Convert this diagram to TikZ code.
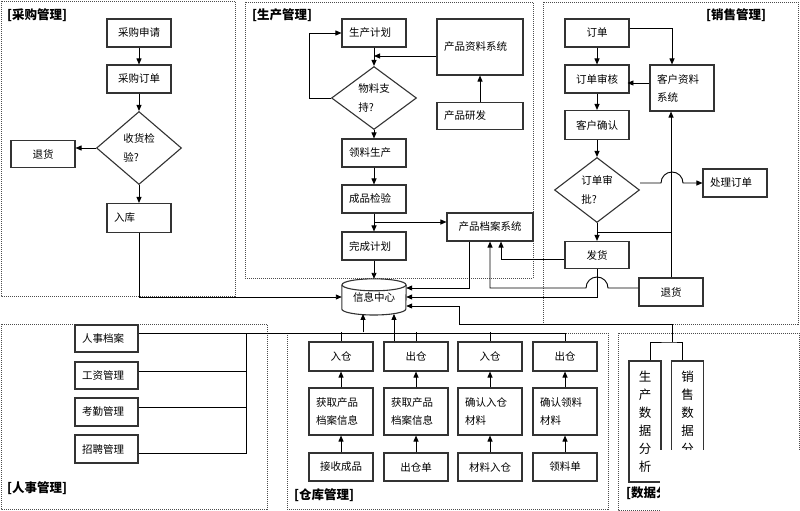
\documentclass[tikz,border=0pt]{standalone}
\usepackage{fontspec}
\setmainfont{Noto Sans CJK SC}
\usetikzlibrary{arrows.meta,shapes.geometric,calc}
\begin{document}
\begin{tikzpicture}[x=1pt,y=-1pt,
  box/.style={draw=black!80,line width=1.1pt,minimum height=28pt,inner xsep=7pt,inner ysep=0pt,text width=50pt,align=center,font=\fontsize{10.5}{18}\selectfont},
  dia/.style={draw=black!80,line width=1.1pt,diamond,minimum width=85pt,minimum height=65pt,inner sep=0pt,align=left,font=\fontsize{10.5}{19}\selectfont},
  vbox/.style={draw=black!80,line width=1.1pt,minimum width=32pt,minimum height=121pt,inner sep=0pt,align=center,font=\fontsize{12.5}{18}\selectfont},
  grp/.style={draw=black!70,line width=0.8pt,dash pattern=on 1pt off 1pt},
  ttl/.style={anchor=west,inner sep=0pt,font=\bfseries\fontsize{12.5}{14}\selectfont},
  con/.style={line width=0.9pt,draw=black},
  arr/.style={con,-{Triangle[length=6pt,width=5pt]}}
]
\useasboundingbox (0,0) rectangle (800,511);
\fill[white] (0,0) rectangle (800,511);

% groups
\draw[grp] (1,1) rectangle (235,296);
\draw[grp] (245,2) rectangle (533,278);
\draw[grp] (543,2) rectangle (798,324);
\draw[grp] (1,324) rectangle (267,509);
\draw[grp] (287,333) rectangle (608,509);
\draw[grp] (618,333) rectangle (799,510);

% titles
\node[ttl] (t1) at (7,15) {[采购管理]};
\node[ttl] (t2) at (252,15) {[生产管理]};
\node[ttl] (t3) at (706,15) {[销售管理]};
\node[ttl] (t4) at (7,488) {[人事管理]};
\node[ttl] (t5) at (294,495) {[仓库管理]};
\node[ttl] (t6) at (626,493) {[数据分析]};

% info center
\node[minimum width=64pt,minimum height=36pt,inner sep=0pt,font=\fontsize{10.5}{13}\selectfont] (info) at (374,297) {信息中心};
\draw[draw=black!80,line width=1.1pt] ($(info.west)+(0,-12)$) -- ($(info.west)+(0,12)$) arc[start angle=180,end angle=360,x radius=32pt,y radius=6pt] -- ($(info.east)+(0,-12)$);
\draw[draw=black!80,line width=1.1pt] ($(info.north)+(0,6)$) ellipse[x radius=32pt,y radius=6pt];

% purchase
\node[box] (pa) at (139,33) {采购申请};
\node[box] (pb) at (139,79) {采购订单};
\node[dia,minimum height=73pt] (pc) at (139,148) {收货检\\验?};
\node[box,minimum height=27pt] (pd) at (43,154) {退货};
\node[box,minimum height=29pt,align=left] (pe) at (139,218) {入库};
\draw[arr] (pa) -- (pb);
\draw[arr] (pb) -- (pc);
\draw[arr] (pc.west) -- (pc.west -| pd.east);
\draw[arr] (pc) -- (pe);
\draw[arr] (pe.south) |- (info.west);

% production
\node[box,align=left] (qa) at (374,33) {生产计划};
\node[dia,minimum height=63pt] (qb) at (374,98) {物料支\\持?};
\node[box,text width=72pt,minimum height=56pt,align=left] (qc) at (480,47) {产品资料系统};
\node[box,text width=72pt,minimum height=27pt,align=left] (qd) at (480,116) {产品研发};
\node[box,align=left] (qe) at (374,153) {领料生产};
\node[box,align=left] (qf) at (374,199) {成品检验};
\node[box,align=left] (qg) at (374,246) {完成计划};
\node[box,text width=72pt] (qh) at (490,227) {产品档案系统};
\coordinate (q1) at (374,56);
\coordinate (q2) at (374,222);
\draw[arr] (qa) -- (qb);
\draw[arr] ([yshift=-9pt]qc.west) -- (q1);
\draw[arr] (qd) -- (qc);
\draw[arr] (qb.west) -- ++(-22,0) |- (qa.west);
\draw[arr] (qb) -- (qe);
\draw[arr] (qe) -- (qf);
\draw[arr] (qf) -- (qg);
\draw[arr] (q2) -- ([yshift=5pt]qh.west);
\draw[arr] (qg) -- (info.north);
\draw[arr] ([xshift=-21pt]qh.south) |- ([yshift=9pt]info.east);

% sales
\node[box] (sa) at (597,33) {订单};
\node[box] (sb) at (597,79) {订单审核};
\node[box,minimum height=46pt,align=left] (sc) at (682,88) {客户资料\\系统};
\node[box,minimum height=29pt] (sd) at (597,125) {客户确认};
\node[dia] (se) at (597,190) {订单审\\批?};
\node[box,align=left] (sf) at (735,183) {处理订单};
\node[box,minimum height=27pt] (sg) at (597,255) {发货};
\node[box] (sh) at (671,292) {退货};
\coordinate (sj) at (597,232);
\draw[arr] (sa) -- (sb);
\draw[arr] (sb) -- (sd);
\draw[arr] (sd) -- (se);
\draw[arr] (se) -- (sg);
\draw[arr] ([yshift=5pt]sa.east) -| ([xshift=-10pt]sc.north);
\draw[arr] ([yshift=5pt]sc.west) -- ++(-22,0);
\draw[arr] (sh.north) -- (sh.north |- sc.south);
\draw[con] (sh.north |- sj) -- (sj);
\draw[arr] ([yshift=7pt]se.east) -- (661,183) arc[start angle=180,end angle=0,radius=11pt] -- (sf.west);
\draw[arr] ([yshift=-4pt]sg.west) -| ([xshift=11pt]qh.south);
\draw[arr] ([yshift=4pt]sh.west) -- (608,288) arc[start angle=0,end angle=180,radius=11pt] -| (qh.south);
\draw[arr] (sg.south) |- (info.east);

% personnel
\node[box,text width=49pt,minimum height=27pt,align=left] (ra) at (106.5,338.5) {人事档案};
\node[box,text width=49pt,minimum height=27pt,align=left] (rb) at (106.5,375.5) {工资管理};
\node[box,text width=49pt,minimum height=28pt,align=left] (rc) at (106.5,412) {考勤管理};
\node[box,text width=49pt,minimum height=28pt,align=left] (rd) at (106.5,449) {招聘管理};

% warehouse
\node[box,minimum height=29pt] (wa1) at (341,356.5) {入仓};
\node[box,minimum height=29pt] (wa2) at (416,356.5) {出仓};
\node[box,minimum height=29pt] (wa3) at (490,356.5) {入仓};
\node[box,minimum height=29pt] (wa4) at (565,356.5) {出仓};
\node[box,minimum height=47pt,align=left] (wb1) at (341,411.5) {获取产品\\档案信息};
\node[box,minimum height=47pt,align=left] (wb2) at (416,411.5) {获取产品\\档案信息};
\node[box,minimum height=47pt,align=left] (wb3) at (490,411.5) {确认入仓\\材料};
\node[box,minimum height=47pt,align=left] (wb4) at (565,411.5) {确认领料\\材料};
\node[box] (wc1) at (341,467) {接收成品};
\node[box] (wc2) at (416,467) {出仓单};
\node[box] (wc3) at (490,467) {材料入仓};
\node[box] (wc4) at (565,467) {领料单};
\foreach \i in {1,2,3,4}{
  \draw[arr] (wc\i) -- (wb\i);
  \draw[arr] (wb\i) -- (wa\i);
}

% bus
\draw[con] ([yshift=5pt]ra.east) -| (wa4.north);
\draw[con] ([yshift=4pt]rb.east) -- ++(108,0);
\draw[con] ([yshift=5pt]rc.east) -- ++(108,0);
\draw[con] ([yshift=-4pt]rd.east) -- ++(108,0) coordinate (rj) -- ++(0,-120);
\draw[con] (wa1.north) -- ++(0,-9);
\draw[con] (wa2.north) -- ++(0,-9);
\draw[con] (wa3.north) -- ++(0,-9);
\draw[arr] ([xshift=22pt,yshift=9pt]wa1.north) -- ++(0,-18.5);
\draw[arr] ([xshift=-22pt]wa2.north) -- ++(0,-27.5);

% data analysis
\node[vbox] (da1) at (645,421.5) {生\\产\\数\\据\\分\\析};
\node[vbox] (da2) at (687.5,421.5) {销\\售\\数\\据\\分\\析};
\coordinate (dj) at (672,342);
\draw[con] ([xshift=5pt]da1.north) |- (dj) -| ([xshift=-5pt]da2.north);
\draw[arr] (dj) -- (672,324) -| (459,306) -- ([yshift=-9pt]info.east);

% white patch covering lower right
\fill[white] (659.5,450) rectangle (801,512);
\end{tikzpicture}
\end{document}
